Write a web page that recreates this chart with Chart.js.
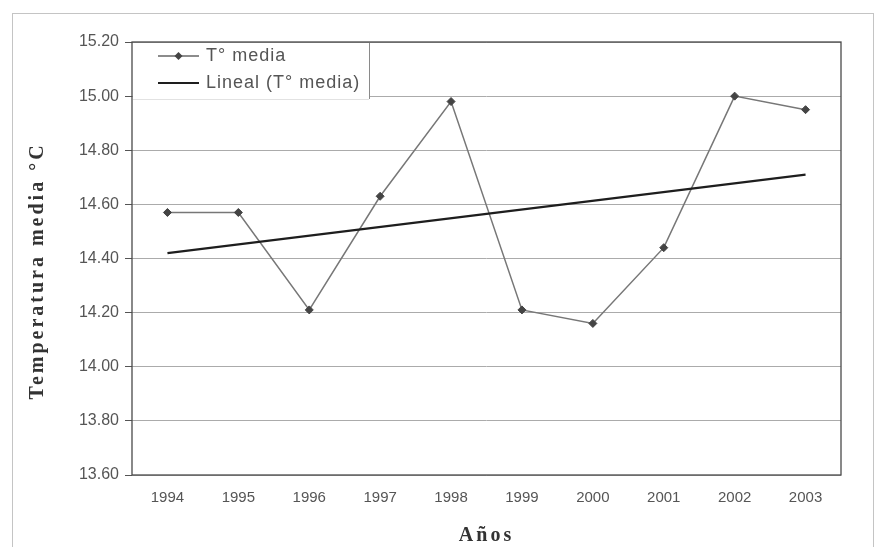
<!DOCTYPE html>
<html>
<head>
<meta charset="utf-8">
<script src="https://cdn.jsdelivr.net/npm/chart.js@4.4.0/dist/chart.umd.min.js"></script>
<style>
  html, body { margin: 0; padding: 0; background: #fff; }
  #wrap { width: 877px; height: 547px; }
</style>
</head>
<body>
<div id="wrap"><canvas id="c" width="877" height="547"></canvas></div>
<script>
// Mean annual temperature, 1994-2003
const years = ['1994', '1995', '1996', '1997', '1998', '1999', '2000', '2001', '2002', '2003'];
const tempMedia = [14.57, 14.57, 14.21, 14.63, 14.98, 14.21, 14.16, 14.44, 15.00, 14.95];
// Linear trend line: value at the first and at the last year
const trendStart = 14.42;
const trendEnd = 14.71;
const yTicks = [13.6, 13.8, 14.0, 14.2, 14.4, 14.6, 14.8, 15.0, 15.2];
const seriesNames = ['T° media', 'Lineal (T° media)'];
const xTitle = 'Años';
const yTitle = 'Temperatura media °C';

const trendData = years.map((_, i) =>
  i === 0 ? trendStart : (i === years.length - 1 ? trendEnd : null));

const sansFont = '"Liberation Sans", Arial, sans-serif';
const serifFont = '"Liberation Serif", "Times New Roman", serif';

const pageDecor = {
  id: 'pageDecor',
  beforeDraw(chart) {
    const ctx = chart.ctx;
    ctx.save();
    ctx.fillStyle = '#fff';
    ctx.fillRect(0, 0, chart.width, chart.height);
    // outer frame
    ctx.strokeStyle = '#c4c4c4';
    ctx.lineWidth = 1;
    ctx.strokeRect(12.5, 13.5, 861, 540);
    ctx.restore();
  },
  afterDraw(chart) {
    const ctx = chart.ctx;
    const a = chart.chartArea;
    ctx.save();

    // plot area border
    ctx.strokeStyle = '#4a4a4a';
    ctx.lineWidth = 1.3;
    ctx.strokeRect(a.left, a.top, a.right - a.left, a.bottom - a.top);

    // legend box in the upper-left corner of the plot
    const lx = a.left + 1, ly = a.top + 1, lw = 236, lh = 56;
    ctx.fillStyle = '#fff';
    ctx.fillRect(lx, ly, lw, lh);
    ctx.strokeStyle = '#8a8a8a';
    ctx.lineWidth = 1;
    ctx.beginPath();
    ctx.moveTo(lx + lw + 0.5, ly);
    ctx.lineTo(lx + lw + 0.5, ly + lh);
    ctx.stroke();
    ctx.strokeStyle = '#e2e2e2';
    ctx.beginPath();
    ctx.moveTo(lx, ly + lh + 0.5);
    ctx.lineTo(lx + lw, ly + lh + 0.5);
    ctx.stroke();

    const sx0 = 158, sx1 = 199, tx = 206;
    const rows = [56, 83];
    // entry 1: line with diamond marker
    ctx.strokeStyle = '#666';
    ctx.lineWidth = 1.5;
    ctx.beginPath();
    ctx.moveTo(sx0, rows[0]);
    ctx.lineTo(sx1, rows[0]);
    ctx.stroke();
    ctx.fillStyle = '#444';
    ctx.beginPath();
    const cx = (sx0 + sx1) / 2, r = 4;
    ctx.moveTo(cx, rows[0] - r);
    ctx.lineTo(cx + r, rows[0]);
    ctx.lineTo(cx, rows[0] + r);
    ctx.lineTo(cx - r, rows[0]);
    ctx.closePath();
    ctx.fill();
    // entry 2: solid trend line
    ctx.strokeStyle = '#1e1e1e';
    ctx.lineWidth = 2.2;
    ctx.beginPath();
    ctx.moveTo(sx0, rows[1]);
    ctx.lineTo(sx1, rows[1]);
    ctx.stroke();

    ctx.fillStyle = '#555';
    ctx.font = '18px ' + sansFont;
    ctx.textAlign = 'left';
    ctx.textBaseline = 'middle';
    ctx.letterSpacing = '1px';
    ctx.fillText(seriesNames[0], tx, rows[0]);
    ctx.fillText(seriesNames[1], tx, rows[1]);

    // axis titles
    ctx.fillStyle = '#333';
    ctx.font = 'bold 20px ' + serifFont;
    ctx.letterSpacing = '3px';
    ctx.textAlign = 'center';
    ctx.fillText(xTitle, (a.left + a.right) / 2, 536);
    ctx.translate(38, 271);
    ctx.rotate(-Math.PI / 2);
    ctx.fillText(yTitle, 0, 0);
    ctx.restore();
  }
};

new Chart(document.getElementById('c'), {
  type: 'line',
  data: {
    labels: years,
    datasets: [
      {
        label: seriesNames[0],
        data: tempMedia,
        borderColor: '#777',
        borderWidth: 1.5,
        pointStyle: 'rectRot',
        pointRadius: 4,
        pointBackgroundColor: '#444',
        pointBorderColor: '#444',
        pointBorderWidth: 1,
        tension: 0,
        order: 2
      },
      {
        label: seriesNames[1],
        data: trendData,
        spanGaps: true,
        borderColor: '#1e1e1e',
        borderWidth: 2.2,
        pointRadius: 0,
        tension: 0,
        order: 1
      }
    ]
  },
  options: {
    responsive: false,
    animation: false,
    devicePixelRatio: 1,
    layout: { padding: { left: 0, right: 36, top: 42, bottom: 0 } },
    plugins: {
      legend: { display: false },
      tooltip: { enabled: false }
    },
    scales: {
      x: {
        type: 'category',
        offset: true,
        grid: { display: false, drawTicks: false },
        border: { display: false },
        ticks: {
          padding: 14,
          maxRotation: 0,
          color: '#555',
          font: { family: sansFont, size: 15 }
        },
        afterFit(s) { s.height = 72; }
      },
      y: {
        min: 13.6,
        max: 15.2,
        afterBuildTicks(s) { s.ticks = yTicks.map(v => ({ value: v })); },
        grid: { color: '#ababab', lineWidth: 1, tickColor: '#555', tickLength: 7 },
        border: { display: false },
        ticks: {
          padding: 6,
          color: '#555',
          font: { family: sansFont, size: 16 },
          callback: v => Number(v).toFixed(2)
        },
        afterFit(s) { s.width = 132; }
      }
    }
  },
  plugins: [pageDecor]
});
</script>
</body>
</html>
